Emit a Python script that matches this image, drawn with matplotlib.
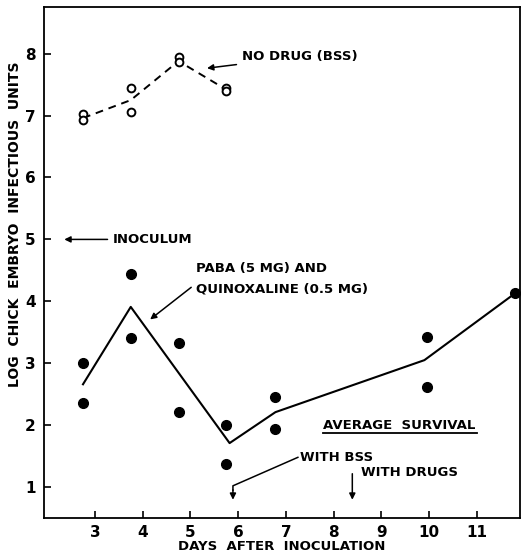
import matplotlib
matplotlib.use('Agg')
import matplotlib.pyplot as plt

# open circles: no drug (BSS)
bss_x = [2.75, 2.75, 3.75, 3.75, 4.75, 4.75, 5.75, 5.75]
bss_y = [7.02, 6.93, 7.44, 7.05, 7.95, 7.86, 7.45, 7.39]
bss_line_x = [2.75, 3.75, 4.75, 5.75]
bss_line_y = [6.96, 7.25, 7.88, 7.42]

# filled circles: PABA + quinoxaline
drug_x = [2.75, 2.75, 3.75, 3.75, 4.75, 4.75, 5.75, 5.75, 6.78, 6.78, 9.95, 9.95, 11.8]
drug_y = [3.01, 2.35, 4.44, 3.40, 3.33, 2.22, 2.01, 1.37, 2.45, 1.94, 3.42, 2.61, 4.13]
drug_line_x = [2.75, 3.75, 5.82, 6.78, 9.9, 11.8]
drug_line_y = [2.66, 3.91, 1.71, 2.21, 3.05, 4.13]

xticks = [3, 4, 5, 6, 7, 8, 9, 10, 11]
yticks = [1, 2, 3, 4, 5, 6, 7, 8]

plt.rcParams['font.family'] = ['DejaVu Sans']
plt.rcParams['font.weight'] = 'bold'
FS = 9.5

fig = plt.figure(figsize=(5.22, 5.57), dpi=100)
ax = fig.add_axes([0.084, 0.070, 0.912, 0.917])

ax.plot(bss_line_x, bss_line_y, color='black', lw=1.4, ls=(0, (4, 3)))
ax.plot(bss_x, bss_y, 'o', mfc='white', mec='black', ms=5.6, mew=1.4)
ax.plot(drug_line_x, drug_line_y, color='black', lw=1.5)
ax.plot(drug_x, drug_y, 'o', color='black', ms=7)

ax.set_xlim(1.93, 11.9)
ax.set_ylim(0.5, 8.75)
ax.set_xticks(xticks)
ax.set_yticks(yticks)
ax.tick_params(direction='in', length=5, width=1.2, labelsize=FS + 1.5)
ax.tick_params(axis='x', pad=5)
ax.tick_params(axis='y', pad=6)
for s in ax.spines.values():
    s.set_linewidth(1.3)

ax.set_xlabel('DAYS  AFTER  INOCULATION', fontsize=FS, fontweight='bold')
ax.xaxis.set_label_coords(0.5, -0.043)
ax.set_ylabel('LOG  CHICK  EMBRYO  INFECTIOUS  UNITS', fontsize=FS + 0.5, fontweight='bold',
              va='center')
ax.yaxis.set_label_coords(-0.061, 0.575)

arr = dict(arrowstyle='-|>', color='black', lw=1.1, mutation_scale=9)
ax.annotate('NO DRUG (BSS)', xy=(5.29, 7.76), xytext=(6.08, 7.95),
            fontsize=FS, fontweight='bold', va='center', arrowprops=arr)
ax.annotate('INOCULUM', xy=(2.3, 5.0), xytext=(3.38, 5.0),
            fontsize=FS, fontweight='bold', va='center', arrowprops=arr)
ax.annotate('PABA (5 MG) AND\nQUINOXALINE (0.5 MG)', xy=(4.11, 3.68), xytext=(5.12, 4.37),
            fontsize=FS, fontweight='bold', va='center', linespacing=1.75,
            arrowprops=dict(arr, relpos=(0, 0.35)))
ax.text(7.78, 2.0, 'AVERAGE  SURVIVAL', fontsize=FS, fontweight='bold', va='center')
ax.plot([7.78, 11.0], [1.87, 1.87], color='black', lw=1.3)

ax.text(7.3, 1.48, 'WITH BSS', fontsize=FS, fontweight='bold', va='center')
ax.plot([7.25, 5.89, 5.89], [1.48, 1.02, 0.95], color='black', lw=1.1)
ax.annotate('', xy=(5.89, 0.75), xytext=(5.89, 1.0), arrowprops=arr)
ax.text(8.58, 1.23, 'WITH DRUGS', fontsize=FS, fontweight='bold', va='center')
ax.annotate('', xy=(8.39, 0.75), xytext=(8.39, 1.26), arrowprops=arr)

fig.savefig('out.png', dpi=100)
